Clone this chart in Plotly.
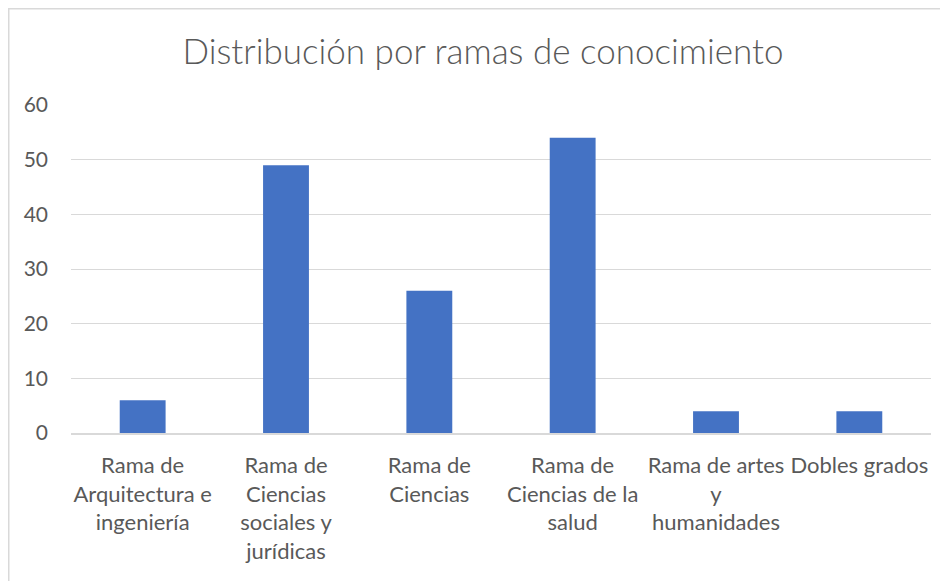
import plotly.graph_objects as go

categories = [
    "Rama de Arquitectura e ingeniería",
    "Rama de Ciencias sociales y jurídicas",
    "Rama de Ciencias",
    "Rama de Ciencias de la salud",
    "Rama de artes y humanidades",
    "Dobles grados",
]
values = [6, 49, 26, 54, 4, 4]
tick_labels = [
    "Rama de<br>Arquitectura e<br>ingeniería",
    "Rama de<br>Ciencias<br>sociales y<br>jurídicas",
    "Rama de<br>Ciencias",
    "Rama de<br>Ciencias de la<br>salud",
    "Rama de artes<br>y<br>humanidades",
    "Dobles grados",
]
y_ticks = [0, 10, 20, 30, 40, 50, 60]
title_text = "Distribución por ramas de conocimiento"

# page body has an 8px margin; figure coordinates are page - 8
OFF = 8
W, H = 948, 581
ml = 71 - OFF
mt = 105 - OFF
mr = (W + OFF) - 931
mb = (H + OFF) - 433

fig = go.Figure(
    go.Bar(
        x=categories,
        y=values,
        marker=dict(color="#4472C4", line=dict(width=0)),
        width=0.32,
    )
)

fig.update_layout(
    width=W,
    height=H,
    margin=dict(l=ml, r=mr, t=mt, b=mb, pad=0),
    paper_bgcolor="white",
    plot_bgcolor="white",
    showlegend=False,
    font=dict(family="Lato, 'Open Sans', sans-serif", color="#595959", size=18),
    title=dict(
        text=title_text,
        font=dict(family="Lato, 'Open Sans', sans-serif", size=35, color="#595959", weight=300),
        x=(483 - OFF) / W,
        xanchor="center",
        xref="container",
        y=1 - (52 - OFF) / H,
        yanchor="middle",
        yref="container",
    ),
    xaxis=dict(
        tickmode="array",
        tickvals=categories,
        ticktext=tick_labels,
        tickfont=dict(size=22, color="#595959"),
        showgrid=False,
        showline=True,
        linecolor="#d9d9d9",
        linewidth=1.5,
        ticks="",
        ticklabelstandoff=12,
        range=[-0.5, 5.5],
    ),
    yaxis=dict(
        range=[0, 60],
        tickmode="array",
        tickvals=y_ticks,
        tickfont=dict(size=21, color="#595959"),
        showgrid=True,
        gridcolor="#d9d9d9",
        gridwidth=1,
        zeroline=False,
        showline=False,
        ticks="",
        ticklabelstandoff=22,
    ),
    shapes=[
        dict(
            type="rect",
            xref="paper",
            yref="paper",
            x0=(0.5 - ml) / (W - ml - mr),
            x1=(W + 20 - ml) / (W - ml - mr),
            y0=-(H + 20 - (H - mb)) / (H - mt - mb),
            y1=1 + (mt - 0.5) / (H - mt - mb),
            line=dict(color="#d9d9d9", width=2),
            fillcolor="rgba(0,0,0,0)",
            layer="below",
        )
    ],
)

fig.write_html("out.html")
